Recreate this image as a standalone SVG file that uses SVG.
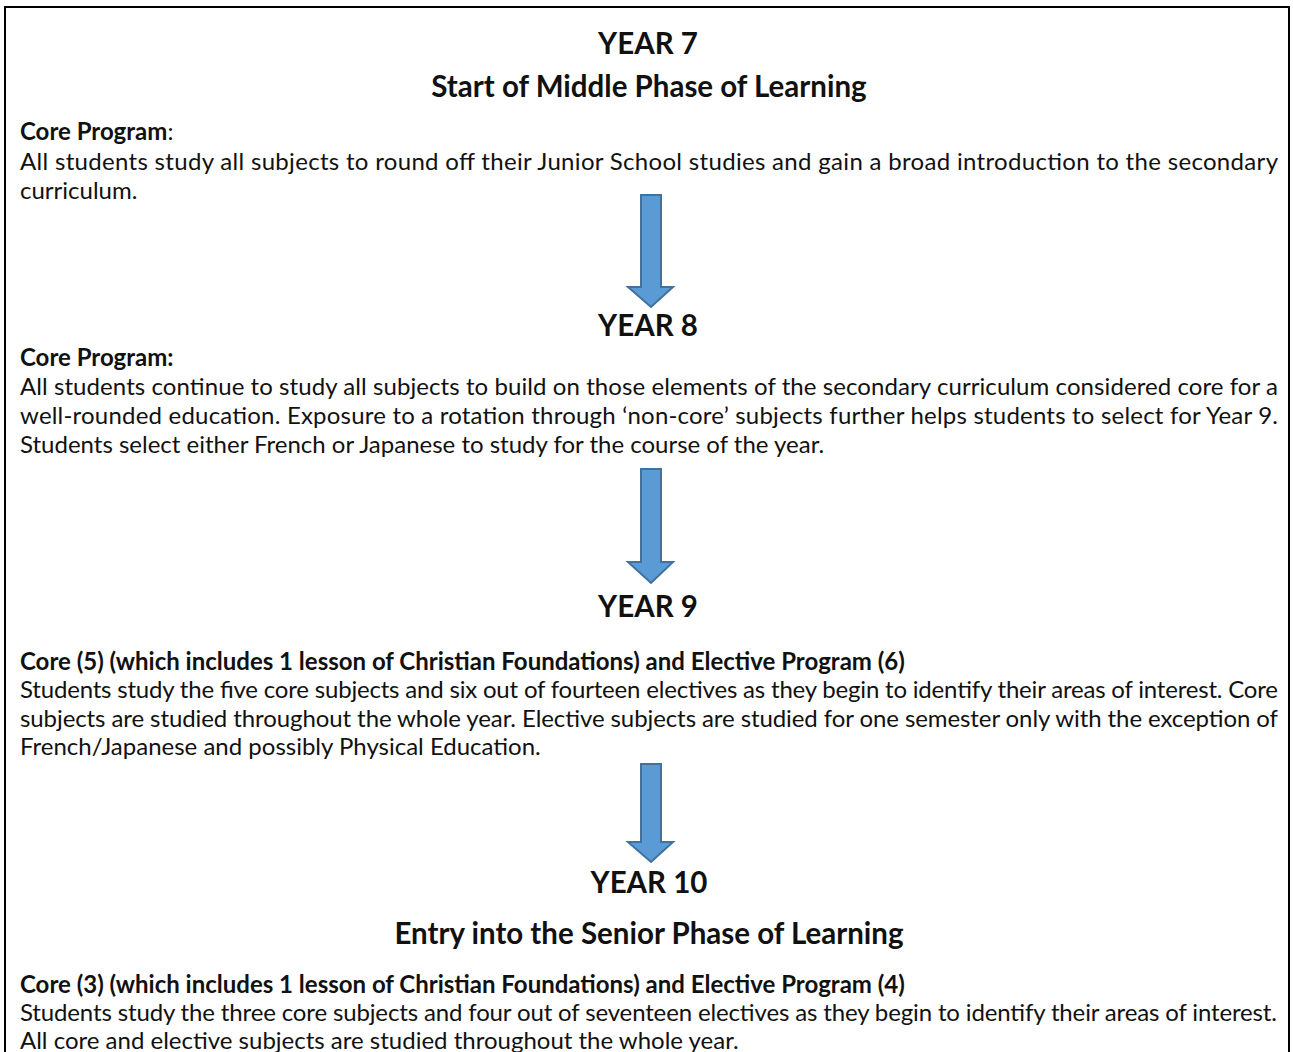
<svg xmlns="http://www.w3.org/2000/svg" width="1293" height="1052" viewBox="0 0 1293 1052">
<defs>
<style>
.h{font-family:Lato,"Liberation Sans",sans-serif;font-weight:700;font-size:29.5px;fill:#111;text-anchor:middle}
.b{font-family:Lato,"Liberation Sans",sans-serif;font-size:24px;fill:#111}
.bb{font-weight:700}
.arrow{fill:#5B9BD5;stroke:#41719C;stroke-width:2}
</style>
</defs>
<rect x="0" y="0" width="1293" height="1052" fill="#fff"/>
<rect x="5" y="7" width="1284" height="1070" fill="none" stroke="#000" stroke-width="2"/>
<g id="year7">
<text class="h" x="648" y="54">YEAR 7</text>
<text class="h" x="649" y="97">Start of Middle Phase of Learning</text>
<text class="b" x="20" y="140"><tspan class="bb">Core Program</tspan>:</text>
<text class="b" x="20" y="170" textLength="1258" lengthAdjust="spacing">All students study all subjects to round off their Junior School studies and gain a broad introduction to the secondary</text>
<text class="b" x="20" y="199">curriculum.</text>
</g>
<g id="year8">
<text class="h" x="648" y="336">YEAR 8</text>
<text class="b bb" x="20" y="366">Core Program:</text>
<text class="b" x="20" y="395" textLength="1258" lengthAdjust="spacing">All students continue to study all subjects to build on those elements of the secondary curriculum considered core for a</text>
<text class="b" x="20" y="424" textLength="1258" lengthAdjust="spacing">well-rounded education. Exposure to a rotation through ‘non-core’ subjects further helps students to select for Year 9.</text>
<text class="b" x="20" y="453">Students select either French or Japanese to study for the course of the year.</text>
</g>
<g id="year9">
<text class="h" x="648" y="617">YEAR 9</text>
<text class="b bb" x="20" y="670">Core (5) (which includes 1 lesson of Christian Foundations) and Elective Program (6)</text>
<text class="b" x="20" y="698" textLength="1258" lengthAdjust="spacing">Students study the five core subjects and six out of fourteen electives as they begin to identify their areas of interest. Core</text>
<text class="b" x="20" y="727" textLength="1258" lengthAdjust="spacing">subjects are studied throughout the whole year. Elective subjects are studied for one semester only with the exception of</text>
<text class="b" x="20" y="755">French/Japanese and possibly Physical Education.</text>
</g>
<g id="year10">
<text class="h" x="649" y="893">YEAR 10</text>
<text class="h" x="649" y="944">Entry into the Senior Phase of Learning</text>
<text class="b bb" x="20" y="993">Core (3) (which includes 1 lesson of Christian Foundations) and Elective Program (4)</text>
<text class="b" x="20" y="1021" textLength="1257" lengthAdjust="spacing">Students study the three core subjects and four out of seventeen electives as they begin to identify their areas of interest.</text>
<text class="b" x="20" y="1049">All core and elective subjects are studied throughout the whole year.</text>
</g>
<g id="connectors">
<path class="arrow" d="M641 195 H661 V287 H673 L651 307 L628 287 H641 Z"/>
<path class="arrow" d="M641 469 H661 V562 H673 L651 583 L628 562 H641 Z"/>
<path class="arrow" d="M641 764 H661 V842 H673 L651 862 L628 842 H641 Z"/>
</g>
</svg>
